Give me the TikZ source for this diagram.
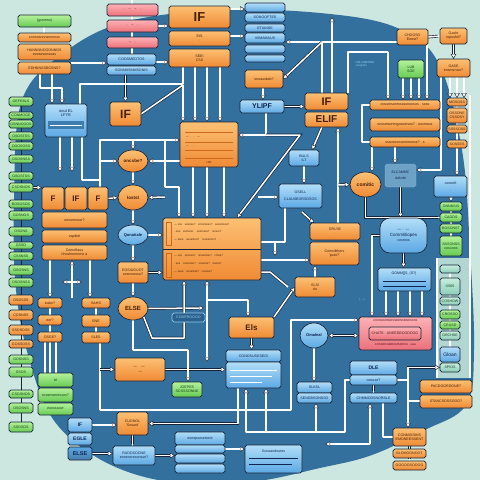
\documentclass[tikz,border=0pt]{standalone}
\usepackage{fontspec}
\setmainfont{Liberation Sans}
\usetikzlibrary{arrows.meta,shapes.geometric}
\definecolor{bgc}{RGB}{204,231,224}
\definecolor{disk}{RGB}{52,112,158}
\definecolor{panel}{RGB}{178,215,210}
\definecolor{ol}{RGB}{26,36,56}
\definecolor{orT}{RGB}{252,192,115}
\definecolor{orB}{RGB}{240,138,52}
\definecolor{orL}{RGB}{205,105,30}
\definecolor{blT}{RGB}{178,222,248}
\definecolor{blB}{RGB}{92,168,228}
\definecolor{grT}{RGB}{180,242,155}
\definecolor{grB}{RGB}{102,202,82}
\definecolor{pkT}{RGB}{252,178,182}
\definecolor{pkB}{RGB}{236,112,122}
\definecolor{tlT}{RGB}{200,238,222}
\definecolor{tlB}{RGB}{140,205,185}
\definecolor{txo}{RGB}{70,32,8}
\definecolor{txb}{RGB}{14,38,80}
\definecolor{txg}{RGB}{18,60,20}
\definecolor{txp}{RGB}{90,15,25}
\definecolor{dkb}{RGB}{42,96,142}
\definecolor{ann}{RGB}{150,205,235}
\pgfdeclarelayer{back}
\pgfdeclarelayer{edges}
\pgfsetlayers{back,edges,main}
\newcommand\mkbox[7]{\node[#1,minimum width={#5-#3},minimum height={#6-#4}] (#2) at ({(#3+#5)/2},{(#4+#6)/2}) {#7};}
\tikzset{
  box/.style={rounded corners=1.8pt, draw=ol, line width=0.65pt, inner sep=0.2pt, outer sep=0pt, align=center, font=\fontsize{3.6}{4.1}\selectfont},
  ob/.style={box, top color=orT, bottom color=orB, text=txo},
  bb/.style={box, top color=blT, bottom color=blB, text=txb},
  gb/.style={box, top color=grT, bottom color=grB, text=txg},
  pb/.style={box, top color=pkT, bottom color=pkB, text=txp},
  tb/.style={box, top color=tlT, bottom color=tlB, text=txg},
  db/.style={box, fill=dkb, draw=ann, text=ann},
  oe/.style={ob, ellipse},
  be/.style={bb, ellipse},
  fs/.style={font=\fontsize{#1}{#1}\selectfont\bfseries},
  tiny/.style={font=\fontsize{2.8}{3.3}\selectfont, inner sep=0pt, align=left},
  wire/.style={draw=white, line width=1.5pt, line join=round, preaction={draw=ol, line width=2.8pt, arrows=-, shorten >=2pt}},
  tipw/.tip={Triangle[length=5pt,width=5.5pt,fill=white,color=ol,line width=0.45pt]},
  arr/.style={wire, -tipw},
  arr2/.style={draw=white, line width=1.5pt, line join=round, preaction={draw=ol, line width=2.8pt, arrows=-, shorten >=2pt, shorten <=2pt}, tipw-tipw}
}
\begin{document}
\begin{tikzpicture}[x=1pt,y=-1pt]
\useasboundingbox (0,0) rectangle (480,480);
\begin{pgfonlayer}{back}
\fill[bgc] (0,0) rectangle (480,480);
\fill[disk] plot[smooth cycle, tension=0.6] coordinates {(14,200) (22,100) (65,52) (125,22) (220,10) (320,13) (395,27) (438,62) (462,150) (470,250) (474,350) (466,405) (425,430) (372,455) (320,468) (250,482) (170,482) (105,462) (55,422) (30,362) (16,290)};
\fill[panel] (436,258) rectangle (470,378);
\end{pgfonlayer}
% ---------- nodes: top left
\mkbox{gb}{g1}{18}{15}{71}{27}{(gsnmno)}
\mkbox{ob}{o1}{18}{33}{71}{42}{snnnnsnnnsnnnnss}
\mkbox{ob}{o2}{18}{44}{71}{60}{HANNNNOOONNGS\\ eoosesonooas}
\mkbox{ob}{o3}{18}{62}{71}{74}{EDHNNSSBGSNS?}
\mkbox{pb}{p1}{107}{4}{158}{16}{·\quad\~{}\quad\~{}\quad·}
\mkbox{pb}{p2}{107}{20}{158}{32}{·\quad\~{}\quad·}
\mkbox{pb}{p3}{107}{37}{158}{48}{\~{}\quad·}
\mkbox{bb}{b1}{107}{54}{156}{65}{COOSMEOTOS}
\mkbox{bb}{b1b}{107}{66}{156}{75}{SONNMSNMSONIS}
\mkbox{ob,fs=13}{IF1}{169}{6}{230}{28}{IF}
\mkbox{ob}{o4}{169}{31}{230}{46}{EtS\\ ·}
\mkbox{ob}{o5}{169}{49}{230}{67}{SEEI\\ CSS}
\mkbox{bb}{s1}{245}{3}{285}{12}{}
\mkbox{bb}{s2}{245}{13}{285}{22}{SONOOFTES}
\mkbox{bb}{s3}{245}{24}{285}{32}{ETIANSE}
\mkbox{bb}{s4}{245}{33}{285}{43}{VIIMAMAUS}
\mkbox{bb}{s5}{245}{45}{285}{53}{}
\mkbox{bb}{s6}{245}{55}{285}{62}{}
\mkbox{ob}{o6}{245}{70}{283}{88}{onoassbsb?}
\mkbox{bb,fs=7}{bY}{240}{100}{284}{113}{YLIPF}
\mkbox{ob,fs=11}{IF2}{305}{93}{348}{110}{IF}
\mkbox{ob,fs=10}{ELIF}{305}{112}{348}{127}{ELIF}
% top right
\mkbox{ob}{o7}{397}{29}{428}{45}{CHOOSO\\ Eeest?}
\mkbox{ob}{o8}{440}{28}{467}{44}{Gasht\\ roposfol?}
\mkbox{gb}{gLUB}{398}{60}{424}{78}{LUB\\ SGE}
\mkbox{ob}{o9}{437}{59}{470}{77}{GASE\\ ensmsnsio?}
\mkbox{ob}{o10}{370}{100}{440}{110}{eossmsonmssssnoosos\ ·\ soss}
\mkbox{ob}{o11}{370}{118}{440}{131}{snssmsonmgossmsos?\ ·\ oosmsos}
\mkbox{ob}{o12}{370}{137}{440}{147}{sssososnseoneooss?\ ·\ s}
\mkbox{ob}{sm1}{447}{98}{467}{106}{MOSOSS}
\mkbox{ob}{sm2}{447}{108}{467}{123}{OSSONE\\ CSSOSY}
\mkbox{ob}{sm3}{447}{125}{467}{133}{SSSSOSS}
\mkbox{ob}{sm4}{447}{140}{467}{148}{SOSSES}
\mkbox{bb}{bBULS}{289}{150}{319}{166}{BULS\\ ILT}
\mkbox{bb}{bGSE}{279}{184}{322}{208}{GSELL\\[3pt] CLAUSEORSOSOS}
\mkbox{oe,fs=5}{eCom}{350}{172}{381}{197}{comitic}
\mkbox{box,fill=blT!45!disk,draw=blT!60!disk,line width=0.4pt,text=txb}{bub}{385}{164}{416}{187}{ELCAMMC\\[2pt] clalcde}
\mkbox{bb}{bSor}{434}{176}{467}{197}{·sorontl·\\[3pt] ·}
\mkbox{gb}{gR1}{440}{202}{462}{211}{GNNNSIS}
\mkbox{gb}{gR2}{440}{213}{462}{222}{CAGDS}
\mkbox{gb}{gR3}{440}{224}{462}{233}{BOSONST}
\mkbox{gb}{gR4}{440}{236}{462}{256}{SSSONSS\\ coscoos}
\mkbox{bb,rounded corners=10pt}{pill}{380}{218}{427}{253}{— ·· —\\[1pt] {\fontsize{4.5}{5}\selectfont Commlitiopes}\\[1pt] cosmos}
% left middle
\mkbox{bb}{bOut}{45}{104}{87}{137}{}
\mkbox{ob,fs=12}{IF3}{110}{102}{141}{126}{IF}
\mkbox{ob}{oBig1}{180}{122}{238}{167}{}
\mkbox{oe,fs=4.5}{eOn}{118}{150}{148}{172}{oncsbe?}
\mkbox{oe,fs=4.5}{eLost}{118}{185}{148}{210}{lostst}
\mkbox{ob,fs=8}{F1}{42}{187}{64}{210}{F}
\mkbox{ob,fs=8}{F2}{65}{187}{87}{210}{IF}
\mkbox{ob,fs=8}{F3}{88}{187}{108}{210}{F}
\mkbox{be,fs=4}{eQon}{118}{225}{148}{245}{Qonatiale}
\mkbox{ob}{o13}{42}{212}{107}{228}{onosmnoor?}
\mkbox{ob}{o14}{42}{230}{107}{243}{vspdtel}
\mkbox{ob}{o15}{42}{245}{107}{260}{Comoflaus\\ hhoshnnnnnsr a}
\mkbox{ob}{oBig2}{163}{218}{261}{280}{}
\mkbox{ob}{oEO}{118}{262}{148}{283}{EOSIUGUOT\\ onsmossnu?}
\mkbox{oe,fs=6}{eELSE}{118}{297}{148}{320}{ELSE}
\mkbox{db}{bEOM}{172}{313}{205}{322}{EOMFROOOO}
\mkbox{ob}{os1}{38}{298}{62}{308}{iuskn?}
\mkbox{ob}{os2}{38}{315}{62}{325}{eor?}
\mkbox{ob}{os3}{38}{332}{62}{342}{OSGE?}
\mkbox{ob}{os4}{82}{298}{110}{308}{SAHS}
\mkbox{ob}{os5}{82}{315}{110}{327}{ENE}
\mkbox{ob}{os6}{82}{332}{110}{343}{SLES}
\mkbox{ob}{oWide}{115}{358}{165}{381}{— ~~ — ~~\\ ~~ — ~~}
\mkbox{gb}{gJOE}{172}{382}{202}{397}{JOEPES\\ SOSSSONNE}
\mkbox{gb}{gS1}{38}{373}{73}{387}{lxl}
\mkbox{gb}{gS2}{38}{388}{73}{402}{ecosmsmessos?}
\mkbox{gb}{gS3}{38}{403}{73}{415}{eoosssoor}
\mkbox{bb,fs=5}{bIF}{68}{418}{92}{432}{IF}
\mkbox{bb,fs=5}{bEGLE}{68}{433}{92}{445}{EGLE}
\mkbox{bb,fs=5.5,top color=blB,bottom color=blB!75!black}{bELSE}{68}{447}{92}{460}{ELSE}
\mkbox{ob}{oCUO}{117}{412}{148}{435}{CUONOL\\ 'Sosunt'}
\mkbox{bb}{bRAD}{113}{446}{155}{465}{RADOSOONE\\ eonecereconssn?}
\mkbox{bb}{bS1}{175}{432}{225}{445}{oonepsosesteot}
\mkbox{bb}{bS2}{175}{445}{225}{453}{}
\mkbox{bb}{bS3}{175}{454}{225}{463}{}
\mkbox{bb}{bS4}{175}{464}{225}{473}{}
% right middle / bottom
\mkbox{ob}{oGR}{310}{223}{360}{240}{GRLSE\\ ·}
\mkbox{ob}{oComs}{310}{242}{359}{265}{Comsilithers\\ 'puto?'}
\mkbox{ob}{oSLSI}{295}{277}{335}{297}{SLSI\\ cls}
\mkbox{ob,fs=8}{oEls}{229}{317}{274}{338}{Els}
\mkbox{be,fs=4}{eOma}{300}{323}{328}{348}{Omaleal}
\mkbox{pb}{pRed}{359}{317}{432}{350}{}
\mkbox{pb}{pRedIn}{369}{327}{421}{340}{CHATE · UNEEDBOODDOG}
\mkbox{bb}{bGom}{378}{268}{431}{291}{}
\mkbox{tb}{t1}{440}{265}{460}{273}{}
\mkbox{tb}{t2}{440}{278}{460}{295}{SS65}
\mkbox{tb}{t3}{440}{297}{460}{305}{COSHOW}
\mkbox{gb}{t4}{440}{310}{460}{319}{CROSSO}
\mkbox{gb}{t5}{440}{321}{460}{329}{CRUSD}
\mkbox{tb}{t6}{440}{331}{460}{340}{GRCHSE}
\mkbox{bb,font=\fontsize{5}{5}\selectfont}{t7}{440}{347}{460}{362}{Gloan}
\mkbox{tb}{t8}{440}{363}{460}{372}{SPIOS}
\mkbox{bb,fs=5}{bDLE}{350}{361}{397}{375}{DLE}
\mkbox{bb}{bDLE2}{350}{375}{397}{385}{conuse?}
\mkbox{bb}{bCOM}{350}{393}{397}{403}{CHMMODSNORBLE}
\mkbox{ob}{oW1}{420}{380}{472}{393}{PACDOORDONE?}
\mkbox{ob}{oW2}{420}{395}{472}{408}{STANCSOSSOOG?}
\mkbox{ob}{oS1}{393}{428}{426}{446}{CONMISSMIS\\ EMONEESSENT}
\mkbox{ob}{oS2}{393}{449}{426}{458}{BLOMOONOOT}
\mkbox{ob}{oS3}{393}{461}{426}{470}{GOGOOSOOOG}
\mkbox{bb}{bSAL}{297}{382}{332}{393}{SLKSL}
\mkbox{bb}{bSAL2}{297}{393}{332}{403}{SENGBSONSSO}
\mkbox{bb}{bL4a}{226}{350}{281}{362}{CONOSUSESEOI}
\mkbox{bb}{bL4b}{226}{362}{281}{388}{}
\mkbox{bb}{bGoos}{245}{445}{302}{473}{}
% left column
\foreach \nm/\st/\ya/\yb/\tx in {c1/gb/97/106/OEFEBLS, c2/gb/112/119/CONMOGE, c3/gb/120/128/GSNNOOOS, c4/gb/132/140/OSOSTSS, c5/gb/142/150/OGOSOSS, c6/gb/155/163/OSOSNSS, c7/gb/172/180/GSOSTSS, c8/gb/183/192/CSOSNOS, c9/gb/200/208/BOSOSOS, c10/gb/211/220/GOSNOS, c11/gb/227/236/OSONS, c12/gb/242/249/GSSO, c13/gb/252/260/CSSNSS, c14/gb/265/275/GSOSNS, c15/gb/278/287/OSOSNSS, c16/ob/295/305/OSOSSS, c17/ob/310/320/COSNSS, c18/ob/325/335/SSOSOSS, c19/ob/340/348/GOSSOSS, c20/gb/355/364/GOSNSS, c21/gb/367/377/SSOS, c22/gb/390/398/CSOSNOS, c23/gb/403/413/OSOSNS, c24/gb/422/432/SSOSOS}
  {\mkbox{\st}{\nm}{9}{\ya}{33}{\yb}{\tx}}
% ---------- inner details
\fill[dkb!60!blB] (48,121) rectangle (84,129);
\draw[white, line width=0.6pt] (50,125) -- (82,125);
\node[tiny, text=txb, align=center, font=\fontsize{4}{4.6}\selectfont] at (66,113) {oout EL\\ LFYE};
\foreach \yy in {132,142,150,158} \draw[orL, line width=0.6pt] (185,\yy) -- (233,\yy);
\node[tiny, text=txo] at (209,163) {cSS};
\node[tiny, text=txo, anchor=west] at (186,137) {— ·\quad ·\quad —};
\node[tiny, text=txo, anchor=west] at (186,146) {—\quad ·\quad ·};
\draw[ol, line width=0.5pt] (163,249) -- (261,249);
\draw[orL, line width=0.4pt] (166,222) rectangle (171,245) (166,253) rectangle (171,277);
\foreach \yy/\tx in {225/{— cos\quad sosnso?\quad cnnsmoss?\quad seosmsos?}, 232/{· ons\quad somono·\quad osmosss?\quad snsuo?}, 240/{— ssns\quad suosmno?\quad cosnsmos?\quad ·}, 256/{— cos\quad sonsoo?\quad smasmso?\quad cmos?}, 264/{· sos\quad cosmnso?\quad snosms?\quad sooss?}, 272/{— ssos\quad sonsmss?\quad cosnos?}}
  {\node[tiny, text=txo, anchor=west] at (174,\yy) {\tx};}
\node[tiny, text=txp, align=center] at (395.5,321) {CONSOMONOSSBONSBNOSSSS};
\node[tiny, text=txp, align=center] at (395.5,345) {COSNOSSMOOMSOOSS · soss};
\node[tiny, text=txb, font=\fontsize{3.6}{4}\selectfont] at (404,274) {GOMM[]S, (S?)};
\draw[txb, line width=0.4pt] (383,281) -- (426,281) (383,286) -- (426,286);
\draw[white, line width=0.5pt] (230,370) -- (277,370) (230,376) -- (272,376) (230,382) -- (262,382);
\node[tiny, text=txb, font=\fontsize{3.6}{4}\selectfont] at (273.5,451) {Goosandoutes};
\draw[txb, line width=0.4pt] (249,458) -- (298,458) (249,464) -- (292,464);
\node[tiny, text=ann] at (365,64) {OBLSIMENMS\\ snnghies};
\node[tiny, text=ann] at (250,258) {· ~~};
\node[tiny, text=ann] at (362,300) {(·.-~)};
% ---------- connectors
\begin{pgfonlayer}{edges}
\draw[ol, line width=0.6pt] (21,97) -- (21,432);
\draw[wire] (g1.south -| 44,0) -- (o1.north -| 44,0);
\draw[wire] (132,0) -- (b1.north -| 132,0);
\draw[arr] (o3.east |- 0,63) -- (b1.west |- 0,63);
\draw[arr] (b1.east |- 0,62) -- (o5.west |- 0,62);
\draw[arr] (p2.east |- 0,26) -- (IF1.west |- 0,26);
\draw[arr] (IF1.east |- 0,9) -- (s1.west |- 0,9);
\draw[arr] (o4.east |- 0,36) -- (s4.west |- 0,36);
\draw[arr] (IF3.north |- b1b.south) -- (IF3.north);
\draw[arr] (o3.south -| 40,0) |- (62,88) -- (bOut.north -| 62,0);
\draw[arr] (o3.south -| 52,0) -- (bOut.north -| 52,0);
\draw[wire] (bOut.north -| 80,0) -- (80,84) -| (o5.south -| 183,0);
\draw[wire] (IF3.east) -- (183,85);
\draw[arr] (183,85) -- (oBig1.north -| 183,0);
\draw[arr] (o5.south -| 195,0) -- (oBig1.north -| 195,0);
\draw[arr] (o5.south -| 207,0) -- (oBig1.north -| 207,0);
\draw[arr] (o5.south -| 220,0) -- (oBig1.north -| 220,0);
\draw[arr] (F3.north -| 100,0) |- (oBig1.west |- 0,140);
\draw[arr] (100,161) -- (eOn.west);
\draw[arr] (133,140) -- (eOn.north);
\draw[arr] (oBig1.west |- eOn.east) -- (eOn.east);
\draw[arr] (eOn.south) -- (eLost.north);
\draw[arr] (eLost.south) -- (eQon.north);
\draw[arr] (F3.east) -- (eLost.west);
\draw[arr] (165,140) -- (165,187) -| (oBig2.north -| 179,0);
\draw[arr] (165,197) -- (eLost.east);
\draw[arr] (bOut.south -| 60,0) -- (60,172);
\draw[arr] (bOut.south -| 72,0) -- (72,172);
\draw[wire] (bOut.south -| 82,0) -- (82,180) -- (100,180);
\draw[arr] (c8.east) -- (F1.west |- c8.east);
\draw[arr] (oBig1.south -| 193,0) -- (oBig2.north -| 193,0);
\draw[arr] (oBig1.south -| 207,0) -- (oBig2.north -| 207,0);
\draw[arr] (oBig1.south -| 224,0) -- (oBig2.north -| 224,0);
% top right
\draw[arr] (o6.south -| 263,0) -- (bY.north -| 263,0);
\draw[arr] (bY.east) -- (bY.east -| IF2.west);
\draw[arr] (bY.south -| 266,0) |- (oBig1.east |- 0,135);
\draw[arr] (266,135) -- (300,135) -- (oBig2.north -| 237,0);
\draw[arr] (o7.west |- 0,42) -- (s4.east |- 0,42);
\draw[arr] (322,42) -- (o6.east);
\draw[wire] (IF2.north -| 322,0) -- (322,42);
\draw[arr] (IF2.north -| 332,0) -- (332,17);
\draw[arr] (ELIF.south -| 322,0) -- (bBULS.north -| 312,0);
\draw[arr] (oGR.north -| 338,0) -- (ELIF.south -| 338,0);
\draw[arr] (bBULS.south) -- (bGSE.north -| bBULS.south);
\draw[arr] (338,185) -- (eCom.west);
\draw[arr] (258,197) -- (bGSE.west |- 0,197);
\draw[wire] (bGSE.south -| 285,0) |- (oBig2.east |- 0,242);
\draw[arr] (275,242) -- (275,256);
\draw[arr] (oBig2.east |- 0,260) -- (oComs.west |- 0,260);
\draw[arr] (302,212) -- (oGR.north -| 314,0);
\draw[arr] (IF2.north east) |- (388,52) -- (o10.north -| 388,0);
\draw[arr] (gLUB.south -| 403,0) -- (o10.north -| 403,0);
\draw[arr] (gLUB.south -| 411,0) -- (o10.north -| 411,0);
\draw[arr] (gLUB.south -| 419,0) -- (o10.north -| 419,0);
\draw[arr] (o7.south -| 427,0) -- (o10.north -| 427,0);
\draw[wire] (o7.east) -- (o8.west);
\draw[arr] (o8.south) -- (o9.north -| o8.south);
\draw[arr] (o9.south -| 450,0) -- (sm1.north -| 450,0);
\draw[arr] (o9.south -| 457,0) -- (sm1.north -| 457,0);
\draw[arr] (o9.south -| 464,0) -- (sm1.north -| 464,0);
\draw[arr] (o9.south -| 441,0) -- (441,170) -- (bub.east |- 0,170);
\draw[wire] (457,106) -- (457,140);
\draw[arr] (sm4.south) -- (bSor.north -| sm4.south);
\draw[wire] (470,95) -- (470,378);
\draw[wire] (437,258) -- (437,378);
\draw[wire] (o10.west) -- (362,105) -- (362,142) -- (o12.west);
\draw[arr] (o12.south -| 372,0) -- (eCom.north -| 372,0);
\draw[arr] (o12.south -| 395,0) -- (bub.north -| 395,0);
\draw[arr] (bub.south) -- (pill.north -| bub.south);
\draw[wire] (eCom.south) |- (gR2.west);
\draw[arr] (bSor.south -| 451,0) -- (gR1.north -| 451,0);
\draw[wire] (451,211) -- (451,236);
% right middle
\draw[arr] (pill.south) -- (bGom.north -| pill.south);
\draw[arr] (pill.west) -| (pRed.north -| 372,0);
\foreach \xx in {386,398,410,422} \draw[arr] (bGom.south -| \xx,0) -- (pRed.north -| \xx,0);
\draw[arr2] (eOma.east) -- (pRed.west |- eOma.east);
\draw[arr] (oSLSI.north) -- (oComs.south -| oSLSI.north);
\draw[arr] (oEls.north east) -- (oSLSI.west);
\draw[wire] (oBig2.east |- 0,272) -- (270,272) -- (288,287);
\draw[arr] (eOma.south) -- (bSAL.north -| eOma.south);
\draw[arr] (oEls.south) -- (bL4a.north -| oEls.south);
\draw[arr] (os6.south -| 100,0) |- (291,410) -- (291,320) -- (pRed.west |- 0,320);
\draw[arr] (oWide.west -| 100,0) -- (oWide.west);
\draw[arr] (oWide.east) -- (bL4b.west |- oWide.east);
\draw[arr2] (oBig2.south -| 207,0) -- (207,362);
\draw[arr] (207,300) -- (248,300) -- (oEls.north -| 248,0);
\draw[arr] (eELSE.east) -- (204,308);
\draw[arr] (eELSE.south east) -- (152,338) -| (oBig2.south -| 184,0);
\draw[arr] (eELSE.south) |- (188,350) -- (gJOE.north -| 188,0);
\draw[arr] (oEO.south) -- (eELSE.north);
\draw[arr] (eQon.south) -- (oEO.north);
\draw[arr] (eQon.east) -- (oBig2.west |- eQon.east);
\draw[arr] (oEO.east) -- (oBig2.west |- oEO.east);
\draw[arr] (o15.south -| 50,0) -- (os1.north -| 50,0);
\draw[arr] (o15.south -| 90,0) -- (os4.north -| 90,0);
\draw[arr] (72,298) -- (o15.south -| 72,0);
\draw[arr2] (os1.east |- 0,282) -- (os4.west |- 0,282);
\foreach \xx in {45,50,56} \draw[wire] (os3.south -| \xx,0) -- (gS1.north -| \xx,0);
\draw[wire] (os1.south) -- (os3.north);
\draw[wire] (os4.south) -- (os6.north);
\draw[arr] (bIF.east) -- (oCUO.west |- bIF.east);
\draw[arr] (bELSE.east) -- (bRAD.west |- bELSE.east);
\draw[wire] (oCUO.south) -- (bRAD.north -| oCUO.south);
\draw[arr] (bRAD.east) -- (bS3.west |- bRAD.east);
\draw[arr] (bS2.east) -- (bGoos.west |- bS2.east);
\draw[arr] (bL4b.south -| 238,0) |- (oCUO.east);
\draw[arr] (bDLE2.west) -| (345,432) -- (246,432) -- (bL4b.south -| 246,0);
\draw[arr] (266,432) -- (bL4b.south -| 266,0);
\draw[arr] (316,432) -- (bSAL2.south -| 316,0);
\draw[arr2] (325,444) -- (370,444) -- (bCOM.south -| 370,0);
\draw[wire] (bCOM.south -| 383,0) |- (oS1.west);
\draw[wire] (bDLE2.south) -- (bCOM.north);
\draw[arr] (bDLE2.east) -- (408,380) |- (t8.west);
\draw[arr] (408,380) -- (oS1.north -| 408,0);
\draw[wire] (408,401) -- (oW2.west |- 0,401);
\draw[wire] (oS1.south) -- (oS3.north);
\draw[wire] (450,265) -- (450,372);
\end{pgfonlayer}
\end{tikzpicture}
\end{document}
